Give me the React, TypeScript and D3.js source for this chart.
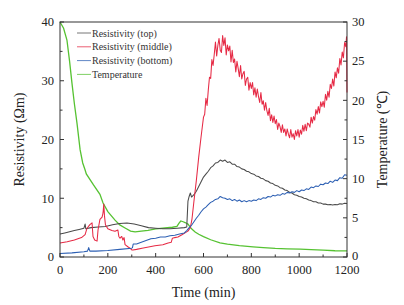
import React from "react";
import * as d3 from "d3";

const W = 404;
const H = 305;

const xTicks = [0, 200, 400, 600, 800, 1000, 1200];
const xMinor = [100, 300, 500, 700, 900, 1100];
const yLeftTicks = [0, 10, 20, 30, 40];
const yLeftMinor = [5, 15, 25, 35];
const yRightTicks = [0, 5, 10, 15, 20, 25, 30];
const yRightMinor = [2.5, 7.5, 12.5, 17.5, 22.5, 27.5];

const seriesNames = ["Resistivity (top)", "Resistivity (middle)", "Resistivity (bottom)", "Temperature"];
const seriesColors = ["#4a4a4a", "#e62a45", "#2c5fb3", "#56c232"];

// [time (min), resistivity (Ωm)]
const topData: [number, number][] = [
  [0, 3.9], [20, 4.1], [40, 4.3], [60, 4.5], [80, 4.7], [100, 4.9], [105, 5.6], [108, 4.8],
  [130, 5.0], [160, 5.1], [190, 5.2], [220, 5.5], [250, 5.7], [280, 5.8], [310, 5.6],
  [340, 5.3], [370, 5.0], [400, 4.9], [430, 4.8], [460, 4.8], [490, 4.9], [520, 5.0],
  [530, 5.1], [535, 9.5], [540, 10.3], [545, 10.9], [550, 10.2], [560, 10.6], [570, 11.2],
  [580, 12.0], [590, 12.8], [600, 13.6], [610, 14.1], [620, 14.6], [630, 15.2], [640, 15.5],
  [650, 16.0], [660, 16.1], [670, 16.5], [680, 16.3], [690, 16.5], [700, 16.1], [710, 16.2],
  [720, 15.8], [730, 15.8], [740, 15.4], [750, 15.3], [760, 15.0], [770, 14.9], [780, 14.6],
  [790, 14.5], [800, 14.2], [810, 14.1], [820, 13.8], [830, 13.7], [840, 13.4], [850, 13.3],
  [860, 13.0], [870, 12.9], [880, 12.6], [890, 12.5], [900, 12.2], [910, 12.1], [920, 11.8],
  [930, 11.7], [940, 11.4], [950, 11.3], [960, 11.0], [970, 10.9], [980, 10.6], [990, 10.5],
  [1000, 10.3], [1010, 10.2], [1020, 10.0], [1030, 9.9], [1040, 9.7], [1050, 9.6], [1060, 9.4],
  [1070, 9.4], [1080, 9.2], [1090, 9.2], [1100, 9.0], [1110, 9.0], [1120, 8.9], [1130, 8.95],
  [1140, 8.85], [1150, 8.95], [1160, 8.9], [1170, 9.05], [1180, 9.0], [1190, 9.15], [1200, 9.1],
];

const middleData: [number, number][] = [
  [0, 2.4], [30, 2.6], [60, 2.9], [90, 3.3], [105, 3.8], [113, 4.9], [125, 5.5], [134, 5.8],
  [138, 3.5], [145, 2.9], [155, 2.7], [159, 4.6], [167, 6.4], [176, 6.8], [180, 7.5],
  [183, 9.0], [186, 7.0], [190, 5.5], [200, 4.8], [217, 4.5], [230, 4.4], [242, 4.6],
  [246, 3.5], [251, 3.2], [258, 3.5], [263, 2.9], [268, 3.3], [272, 2.1], [285, 1.7],
  [293, 1.5], [300, 1.2], [305, 1.2], [320, 1.3], [343, 1.5], [370, 1.7], [397, 1.9],
  [430, 2.1], [452, 2.4], [465, 2.5], [470, 3.2], [480, 3.3], [493, 3.4], [510, 3.8],
  [523, 4.1], [535, 4.4], [545, 5.0], [552, 6.5], [560, 9.5], [570, 13.0], [580, 17.0],
  [590, 20.5], [600, 23.8], [605, 24.3], [610, 27.0], [615, 25.8], [620, 28.4], [625, 30.6],
  [630, 30.4], [635, 33.6], [640, 32.6], [645, 34.5], [650, 36.6], [655, 34.2], [660, 36.0],
  [665, 37.2], [670, 35.2], [675, 34.8], [680, 37.7], [685, 36.0], [690, 37.3], [695, 34.4],
  [700, 36.1], [705, 35.1], [710, 35.9], [715, 33.2], [720, 35.2], [725, 33.1], [730, 33.7],
  [735, 31.5], [740, 33.3], [745, 32.1], [750, 30.7], [755, 32.6], [760, 30.3], [765, 31.2],
  [770, 31.6], [775, 29.2], [780, 30.3], [785, 30.6], [790, 28.4], [795, 29.7], [800, 28.7],
  [805, 29.7], [810, 27.6], [815, 28.8], [820, 27.2], [825, 28.6], [830, 27.3], [835, 26.3],
  [840, 28.0], [845, 26.0], [850, 26.6], [855, 25.0], [860, 26.3], [865, 24.9], [870, 24.1],
  [875, 25.3], [880, 23.2], [885, 24.2], [890, 22.9], [895, 24.0], [900, 22.7], [905, 23.4],
  [910, 21.7], [915, 22.8], [920, 22.2], [925, 21.2], [930, 22.5], [935, 21.2], [940, 21.8],
  [945, 20.6], [950, 21.8], [955, 20.9], [960, 20.3], [965, 21.7], [970, 20.4], [975, 21.0],
  [980, 20.0], [985, 21.5], [990, 20.6], [995, 21.7], [1000, 20.4], [1005, 21.6], [1010, 20.9],
  [1015, 22.4], [1020, 21.4], [1025, 22.6], [1030, 21.5], [1035, 22.8], [1040, 22.6],
  [1045, 22.1], [1050, 23.8], [1055, 22.8], [1060, 23.9], [1065, 23.3], [1070, 25.1],
  [1075, 24.3], [1080, 25.6], [1085, 24.5], [1090, 26.4], [1095, 25.6], [1100, 26.5],
  [1105, 25.5], [1110, 27.7], [1115, 26.7], [1120, 28.2], [1125, 27.2], [1130, 29.4],
  [1135, 28.7], [1140, 30.3], [1145, 29.1], [1150, 31.5], [1155, 30.5], [1160, 32.2],
  [1165, 31.3], [1170, 33.8], [1175, 32.7], [1180, 34.9], [1185, 33.9], [1190, 36.5],
  [1195, 35.8], [1198, 37.5], [1200, 28.0],
];

const bottomData: [number, number][] = [
  [0, 0.6], [50, 0.7], [100, 0.9], [115, 1.0], [120, 1.6], [125, 1.0], [150, 1.0], [200, 1.1],
  [250, 1.3], [300, 1.5], [303, 1.6], [306, 2.2], [320, 2.2], [340, 2.5], [360, 2.8],
  [380, 3.1], [400, 3.2], [420, 3.4], [440, 3.4], [460, 3.6], [480, 3.7], [500, 3.9],
  [520, 4.1], [530, 4.5], [540, 5.0], [550, 5.4], [560, 6.0], [570, 6.6], [580, 7.1],
  [590, 7.7], [600, 8.2], [610, 8.5], [620, 8.9], [630, 9.3], [640, 9.5], [650, 9.8],
  [660, 9.9], [670, 10.3], [680, 10.1], [690, 10.0], [700, 9.8], [710, 9.9], [720, 9.6],
  [730, 9.8], [740, 9.5], [750, 9.7], [760, 9.4], [770, 9.6], [780, 9.4], [790, 9.6],
  [800, 9.5], [810, 9.7], [820, 9.6], [830, 9.9], [840, 9.8], [850, 10.1], [860, 10.0],
  [870, 10.3], [880, 10.2], [890, 10.5], [900, 10.4], [910, 10.6], [920, 10.5], [930, 10.8],
  [940, 10.7], [950, 11.0], [960, 10.9], [970, 11.1], [980, 11.0], [990, 11.3], [1000, 11.1],
  [1010, 11.4], [1020, 11.3], [1030, 11.6], [1040, 11.5], [1050, 11.9], [1060, 11.8],
  [1070, 12.1], [1080, 12.0], [1090, 12.4], [1100, 12.3], [1110, 12.6], [1120, 12.5],
  [1130, 12.9], [1140, 12.7], [1150, 13.1], [1160, 13.0], [1170, 13.5], [1180, 13.4],
  [1190, 14.0], [1200, 13.9],
];

// [time (min), temperature (℃)]
const tempData: [number, number][] = [
  [0, 30], [15, 29.2], [29, 27.7], [40, 25.0], [50, 22.2], [60, 19.6], [71, 17.1], [84, 13.7],
  [95, 12.0], [105, 11.1], [110, 10.6], [140, 9.2], [167, 8.0], [180, 6.9], [200, 5.8],
  [230, 4.7], [250, 4.1], [272, 3.7], [295, 3.3], [314, 3.2], [340, 3.3], [368, 3.4],
  [400, 3.6], [439, 3.7], [470, 3.8], [489, 3.9], [497, 4.3], [505, 4.6], [515, 4.5],
  [523, 4.4], [535, 4.2], [550, 3.6], [565, 3.2], [580, 2.9], [600, 2.6], [630, 2.2],
  [669, 1.8], [700, 1.65], [750, 1.45], [807, 1.3], [850, 1.2], [900, 1.1], [950, 1.05],
  [1004, 1.0], [1050, 0.95], [1100, 0.88], [1150, 0.8], [1200, 0.77],
];

const FONT = "'Liberation Serif', 'Times New Roman', serif";
const AXIS = "#333";

export default function App() {
  const left = 60, right = 347, top = 22, bottom = 257;
  const x = d3.scaleLinear().domain([0, 1200]).range([left, right]);
  const yL = d3.scaleLinear().domain([0, 40]).range([bottom, top]);
  const yR = d3.scaleLinear().domain([0, 30]).range([bottom, top]);

  const lineL = d3.line<[number, number]>().x(d => x(d[0])).y(d => yL(d[1]));
  const lineR = d3.line<[number, number]>().x(d => x(d[0])).y(d => yR(d[1]));

  const resSeries = [topData, middleData, bottomData];

  return (
    <svg width={W} height={H} style={{ position: "absolute", left: 0, top: 0, background: "#fff" }}>
      <rect x={0} y={0} width={W} height={H} fill="#fff" />
      {/* data */}
      <path d={lineR(tempData) || ""} fill="none" stroke={seriesColors[3]} strokeWidth={1.3} />
      {resSeries.map((s, i) => (
        <path key={i} d={lineL(s) || ""} fill="none" stroke={seriesColors[i]} strokeWidth={1.05} strokeLinejoin="round" />
      ))}

      {/* frame */}
      <rect x={left} y={top} width={right - left} height={bottom - top} fill="none" stroke={AXIS} strokeWidth={1} />

      {/* x ticks */}
      {xTicks.map(t => (
        <g key={"x" + t}>
          <line x1={x(t)} x2={x(t)} y1={bottom} y2={bottom - 4} stroke={AXIS} />
          <text x={x(t)} y={bottom + 16.5} textAnchor="middle" fontFamily={FONT} fontSize={12.5} fill="#222">{t}</text>
        </g>
      ))}
      {xMinor.map(t => (
        <line key={"xm" + t} x1={x(t)} x2={x(t)} y1={bottom} y2={bottom - 2.5} stroke={AXIS} />
      ))}

      {/* left ticks */}
      {yLeftTicks.map(t => (
        <g key={"yl" + t}>
          <line x1={left} x2={left + 4} y1={yL(t)} y2={yL(t)} stroke={AXIS} />
          <text x={left - 6} y={yL(t) + 4.3} textAnchor="end" fontFamily={FONT} fontSize={12.5} fill="#222">{t}</text>
        </g>
      ))}
      {yLeftMinor.map(t => (
        <line key={"ylm" + t} x1={left} x2={left + 2.5} y1={yL(t)} y2={yL(t)} stroke={AXIS} />
      ))}

      {/* right ticks */}
      {yRightTicks.map(t => (
        <g key={"yr" + t}>
          <line x1={right} x2={right - 4} y1={yR(t)} y2={yR(t)} stroke={AXIS} />
          <text x={right + 5} y={yR(t) + (t === 0 ? 3.2 : 4.3)} textAnchor="start" fontFamily={FONT} fontSize={12.5} fill="#222">{t}</text>
        </g>
      ))}
      {yRightMinor.map(t => (
        <line key={"yrm" + t} x1={right} x2={right - 2.5} y1={yR(t)} y2={yR(t)} stroke={AXIS} />
      ))}

      {/* axis titles */}
      <text x={(left + right) / 2} y={297} textAnchor="middle" fontFamily={FONT} fontSize={14} fill="#222">Time (min)</text>
      <text transform={`translate(24, ${(top + bottom) / 2}) rotate(-90)`} textAnchor="middle" fontFamily={FONT} fontSize={14} fill="#222">Resistivity (Ωm)</text>
      <text transform={`translate(387, ${(top + bottom) / 2}) rotate(-90)`} textAnchor="middle" fontFamily={FONT} fontSize={14} fill="#222">Temperature (℃)</text>

      {/* legend */}
      {seriesNames.map((n, i) => (
        <g key={n}>
          <line x1={77} x2={91} y1={33 + i * 13.8} y2={33 + i * 13.8} stroke={seriesColors[i]} strokeWidth={1} opacity={0.75} />
          <text x={92} y={33 + i * 13.8 + 3.5} fontFamily={FONT} fontSize={10} fill="#333">{n}</text>
        </g>
      ))}
    </svg>
  );
}
